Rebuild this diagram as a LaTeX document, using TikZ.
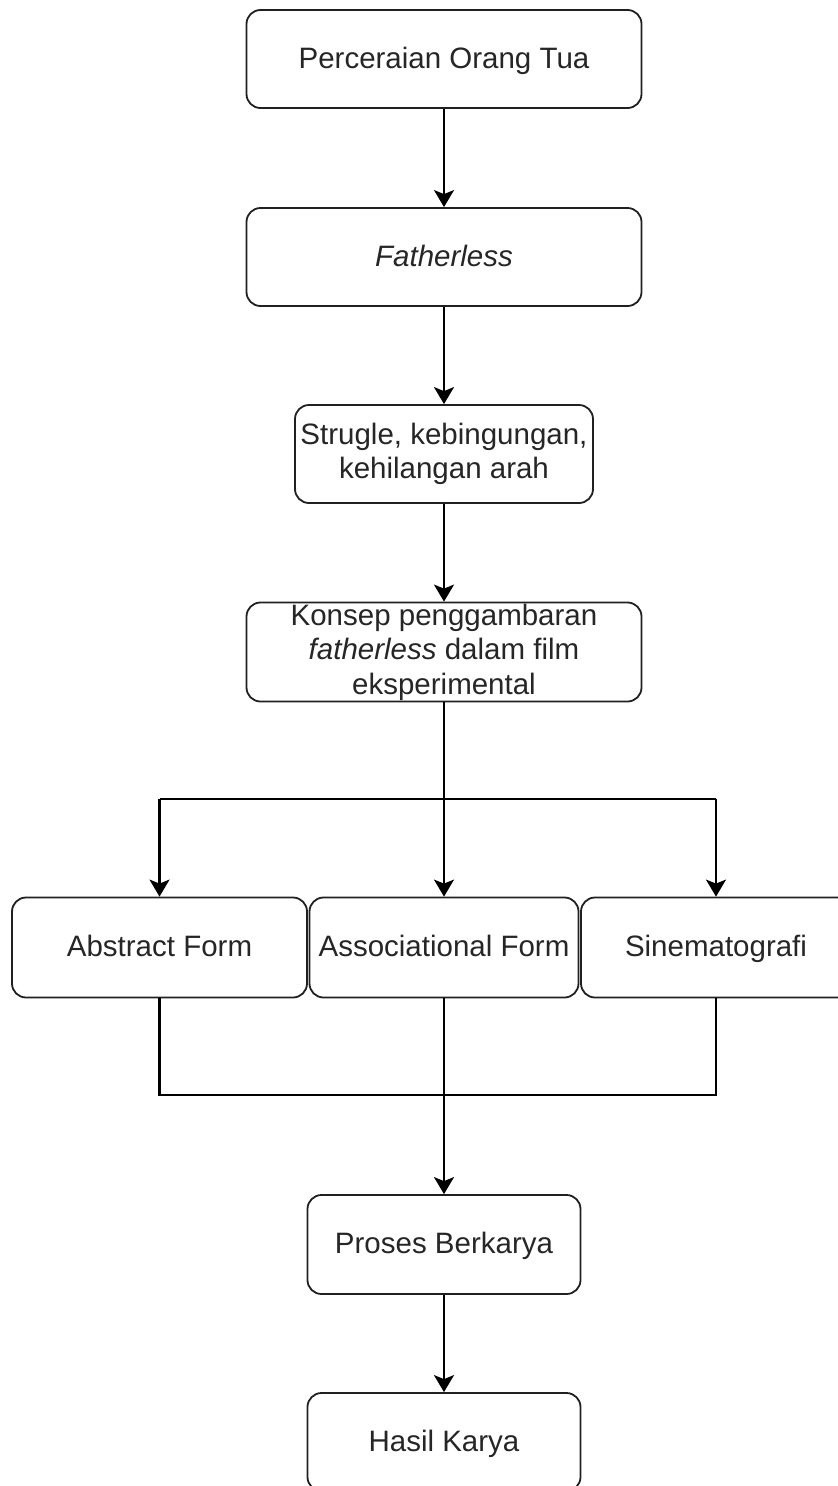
\documentclass[tikz,border=0pt]{standalone}
\usepackage{fontspec}
\setmainfont{Liberation Sans}
\usetikzlibrary{arrows.meta}
\definecolor{txt}{HTML}{262626}
\definecolor{edge}{HTML}{202020}
\begin{document}
\begin{tikzpicture}[x=1pt,y=-1pt,
  box/.style={draw=edge, line width=1.8pt, rounded corners=14pt, minimum width=#1,
    minimum height=98pt, inner sep=0pt, font=\fontsize{29.5}{34.5}\selectfont,
    text=txt, align=center},
  one/.style={text height=24pt, text depth=6pt},
  conn/.style={draw=black, line width=2.2pt, -{Stealth[length=17pt,width=20pt,inset=4pt]}},
  wire/.style={draw=black, line width=2.2pt}]
\useasboundingbox[fill=white] (0,0) rectangle (838,1486);

\node[box=395pt, one] (a) at (444,59) {Perceraian Orang Tua};
\node[box=395pt, one] (b) at (444,257) {\itshape Fatherless};
\node[box=298pt] (c) at (444,454) {Strugle, kebingungan,\\kehilangan arah};
\node[box=395pt, minimum height=99pt] (k) at (444,652) {Konsep penggambaran\\\textit{fatherless} dalam film\\eksperimental};
\node[box=295pt, minimum height=100pt, one] (f1) at (159.5,947.5) {Abstract Form};
\node[box=269pt, minimum height=100pt, one] (f2) at (444,947.5) {Associational Form};
\node[box=270pt, minimum height=100pt, one] (f3) at (716,947.5) {Sinematografi};
\node[box=273pt, minimum height=99pt, one] (p) at (444,1244.5) {Proses Berkarya};
\node[box=273pt, one] (h) at (444,1442) {Hasil Karya};

\coordinate (jt) at (444,799);
\coordinate (jb) at (444,1095);

\draw[conn] (a) -- (b);
\draw[conn] (b) -- (c);
\draw[conn] (c) -- (k);
\draw[wire] (f1.north |- jt) -- (f3.north |- jt);
\draw[conn] (k) -- (f2);
\draw[conn] (f1.north |- jt) -- (f1.north);
\draw[conn] (f3.north |- jt) -- (f3.north);
\draw[wire] (f1.south) -- (f1.south |- jb) -- (f3.south |- jb) -- (f3.south);
\draw[wire] (f2.south) -- (jb);
\draw[conn] (jb) -- (p);
\draw[conn] (p) -- (h);
\end{tikzpicture}
\end{document}
